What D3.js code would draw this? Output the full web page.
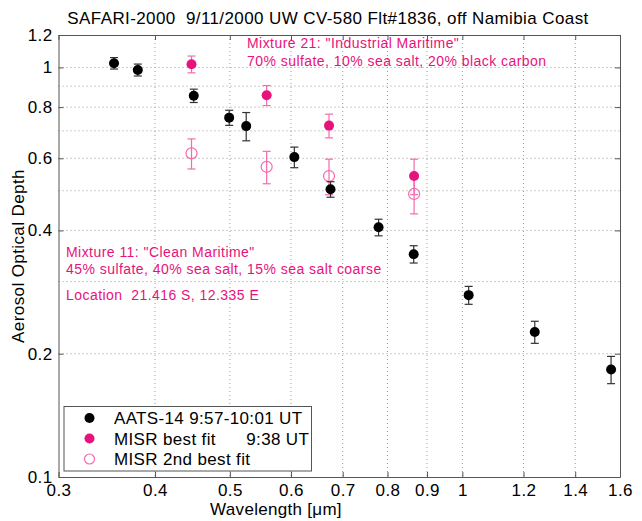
<!DOCTYPE html>
<html>
<head>
<meta charset="utf-8">
<script src="https://cdn.jsdelivr.net/npm/d3@7"></script>
<style>
  body { margin: 0; background: #fff; }
  svg { font-family: "Liberation Sans", Arial, Helvetica, sans-serif; }
  .grid line { stroke: #9a9a9a; stroke-width: 1; stroke-dasharray: 1,3; }
  .axis path, .axis line { stroke: #555; }
  .axis text { fill: #000; font-size: 17px; letter-spacing: 0.4px; }
</style>
</head>
<body>
<div id="js_chart"></div>
<script>
// AATS-14 sunphotometer
var aatsWl  = [0.354, 0.380, 0.449, 0.499, 0.525, 0.606, 0.675, 0.779, 0.865, 1.019, 1.241, 1.558];
var aatsAod = [1.024, 0.986, 0.853, 0.754, 0.719, 0.604, 0.504, 0.407, 0.350, 0.278, 0.226, 0.183];
var aatsErr = [0.033, 0.033, 0.032, 0.032, 0.057, 0.035, 0.022, 0.019, 0.017, 0.014, 0.014, 0.014];

// MISR retrievals
var misrWl   = [0.446, 0.558, 0.672, 0.866];
var bestAod  = [1.018, 0.855, 0.721, 0.543];
var bestErr  = [0.048, 0.048, 0.048, 0.054];
var secondAod = [0.617, 0.572, 0.543, 0.491];
var secondErr = [0.052, 0.052, 0.054, 0.052];

var xTicks = [0.3, 0.4, 0.5, 0.6, 0.7, 0.8, 0.9, 1, 1.2, 1.4, 1.6];
var yTicks = [0.1, 0.2, 0.4, 0.6, 0.8, 1, 1.2];
var yGrid  = [0.2, 0.3, 0.4, 0.5, 0.6, 0.7, 0.8, 0.9, 1];

var legendLabels = ["AATS-14 9:57-10:01 UT", "MISR best fit      9:38 UT", "MISR 2nd best fit"];

var magenta = "#e8127c";
var pink = "#f46aae";

var W = 642, H = 521;
var mLeft = 58.5, mRight = 620, mTop = 35, mBottom = 477;

var svg = d3.select("#js_chart").append("svg")
    .attr("width", W)
    .attr("height", H);

var x = d3.scaleLog().domain([0.3, 1.6]).range([mLeft, mRight]);
var y = d3.scaleLog().domain([0.1, 1.2]).range([mBottom, mTop]);

// grid
var grid = svg.append("g").attr("class", "grid");
grid.selectAll("line.gx").data(xTicks.slice(1, -1)).enter().append("line")
    .attr("x1", function (d) { return x(d); })
    .attr("x2", function (d) { return x(d); })
    .attr("y1", mTop).attr("y2", mBottom);
grid.selectAll("line.gy").data(yGrid).enter().append("line")
    .attr("y1", function (d) { return y(d); })
    .attr("y2", function (d) { return y(d); })
    .attr("x1", mLeft).attr("x2", mRight);

// axes, ticks pointing inward like the original
var fmt = function (d) { return String(d); };

svg.append("g").attr("class", "axis")
    .attr("transform", "translate(0," + mBottom + ")")
    .call(d3.axisBottom(x).tickValues(xTicks).tickFormat(fmt).tickSizeInner(-5).tickSizeOuter(0).tickPadding(7));
svg.append("g").attr("class", "axis")
    .attr("transform", "translate(0," + mTop + ")")
    .call(d3.axisTop(x).tickValues(xTicks).tickFormat("").tickSizeInner(-5).tickSizeOuter(0));
svg.append("g").attr("class", "axis")
    .attr("transform", "translate(" + mLeft + ",0)")
    .call(d3.axisLeft(y).tickValues(yTicks).tickFormat(fmt).tickSizeInner(-5).tickSizeOuter(0).tickPadding(6));
svg.append("g").attr("class", "axis")
    .attr("transform", "translate(" + mRight + ",0)")
    .call(d3.axisRight(y).tickValues(yTicks).tickFormat("").tickSizeInner(-5).tickSizeOuter(0));

// error bars + markers
function errorBars(wl, val, err, color) {
    var g = svg.append("g").attr("stroke", color).attr("stroke-width", 1.2).attr("fill", "none");
    wl.forEach(function (w, i) {
        var cx = x(w), y0 = y(val[i] + err[i]), y1 = y(val[i] - err[i]);
        g.append("line").attr("x1", cx).attr("x2", cx).attr("y1", y0).attr("y2", y1);
        g.append("line").attr("x1", cx - 4).attr("x2", cx + 4).attr("y1", y0).attr("y2", y0);
        g.append("line").attr("x1", cx - 4).attr("x2", cx + 4).attr("y1", y1).attr("y2", y1);
    });
}

errorBars(misrWl, secondAod, secondErr, pink);
svg.append("g").selectAll("circle").data(misrWl).enter().append("circle")
    .attr("cx", function (d) { return x(d); })
    .attr("cy", function (d, i) { return y(secondAod[i]); })
    .attr("r", 5.5)
    .attr("fill", "none")
    .attr("stroke", pink)
    .attr("stroke-width", 1.2);

errorBars(misrWl, bestAod, bestErr, pink);
svg.append("g").selectAll("circle").data(misrWl).enter().append("circle")
    .attr("cx", function (d) { return x(d); })
    .attr("cy", function (d, i) { return y(bestAod[i]); })
    .attr("r", 5)
    .attr("fill", magenta);

errorBars(aatsWl, aatsAod, aatsErr, "#333");
svg.append("g").selectAll("circle").data(aatsWl).enter().append("circle")
    .attr("cx", function (d) { return x(d); })
    .attr("cy", function (d, i) { return y(aatsAod[i]); })
    .attr("r", 5)
    .attr("fill", "#000");

// annotations
function note(tx, ty, str) {
    svg.append("text").attr("x", tx).attr("y", ty)
        .attr("fill", magenta).attr("font-size", "14px")
        .attr("letter-spacing", "0.45px")
        .style("white-space", "pre")
        .text(str);
}
note(247, 48, 'Mixture 21: "Industrial Maritime"');
note(247, 66, "70% sulfate, 10% sea salt, 20% black carbon");
note(66, 257, 'Mixture 11: "Clean Maritime"');
note(66, 274, "45% sulfate, 40% sea salt, 15% sea salt coarse");
note(66, 300, "Location  21.416 S, 12.335 E");

// legend
var leg = svg.append("g");
leg.append("rect")
    .attr("x", 64).attr("y", 406.5).attr("width", 247.5).attr("height", 64.5)
    .attr("fill", "#fff").attr("stroke", "#555").attr("stroke-width", 1);
var legRows = [418, 438.5, 459];
leg.append("circle").attr("cx", 89.5).attr("cy", legRows[0]).attr("r", 5).attr("fill", "#000");
leg.append("circle").attr("cx", 89.5).attr("cy", legRows[1]).attr("r", 5).attr("fill", magenta);
leg.append("circle").attr("cx", 89.5).attr("cy", legRows[2]).attr("r", 5).attr("fill", "none").attr("stroke", pink).attr("stroke-width", 1.2);
legendLabels.forEach(function (s, i) {
    leg.append("text").attr("x", 114).attr("y", legRows[i]).attr("dy", "0.36em")
        .attr("font-size", "17px").attr("letter-spacing", "0.35px")
        .style("white-space", "pre").text(s);
});

// titles
svg.append("text").attr("x", 328).attr("y", 24).attr("text-anchor", "middle")
    .attr("font-size", "17px").attr("letter-spacing", "0.4px").style("white-space", "pre")
    .text("SAFARI-2000  9/11/2000 UW CV-580 Flt#1836, off Namibia Coast");
svg.append("text").attr("x", 276).attr("y", 515).attr("text-anchor", "middle")
    .attr("font-size", "17px").attr("letter-spacing", "0.3px").text("Wavelength [\u03bcm]");
svg.append("text").attr("transform", "translate(24,256) rotate(-90)").attr("text-anchor", "middle")
    .attr("font-size", "17px").attr("letter-spacing", "0.4px").text("Aerosol Optical Depth");
</script>
</body>
</html>
